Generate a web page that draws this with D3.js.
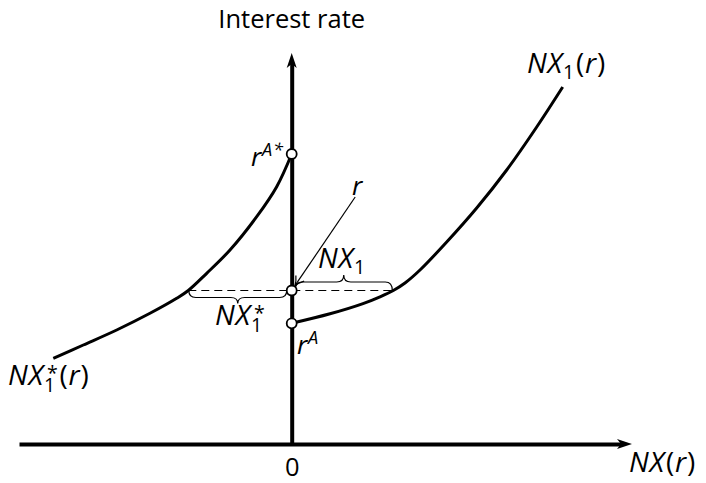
<!DOCTYPE html>
<html>
<head>
<meta charset="utf-8">
<script src="https://cdn.jsdelivr.net/npm/d3@7"></script>
<style>
  body { margin: 0; background: #fff; }
  text { font-family: "Open Sans", "DejaVu Sans", sans-serif; fill: #000; }
</style>
</head>
<body>
<svg id="chart" width="706" height="483"></svg>
<script>
// Home net exports NX1(r): [NX, r]
const homeNX = [
  [0, 12.07], [3.83, 13.02], [7.13, 14.04], [8.83, 14.72], [10.16, 15.35], [11.33, 16.1],
  [12.83, 17.4], [15.5, 20.2], [18.5, 23.6], [21.5, 27.4], [24.5, 31.7], [27.1, 35.7]
];
// Foreign net exports NX1*(r), mirrored to the left of the axis: [NX, r]
const foreignNX = [
  [-23.84, 8.57], [-20.84, 9.9], [-17.5, 11.4], [-14.17, 13.07], [-11.5, 14.57],
  [-10.34, 15.35], [-8.5, 17.07], [-6.17, 19.4], [-3.5, 22.73], [-1.5, 25.73], [0, 29.0]
];
// Key interest rates
const rAutarkyHome = 12.07;     // r^A
const rAutarkyForeign = 29.0;   // r^A*
const rWorld = 15.35;           // r
// Trade volumes at the world rate
const nxHomeAtWorld = 10.16;
const nxForeignAtWorld = -10.34;
// Tick labels
const xTicks = [0];
const xTickLabels = ["0"];

const svg = d3.select("#chart");
const x = d3.scaleLinear().domain([-27.27, 33.03]).range([19, 622]);
const y = d3.scaleLinear().domain([0, 38.1]).range([444, 63]);

// ---- Axes ----
const xAxis = d3.axisBottom(x).tickValues(xTicks).tickFormat((d, i) => xTickLabels[i])
  .tickSize(0).tickSizeOuter(0).tickPadding(14);
const gx = svg.append("g").attr("transform", `translate(0,${y(0)})`).call(xAxis);
gx.select(".domain").attr("stroke", "#000").attr("stroke-width", 4);
gx.selectAll(".tick text").attr("font-size", 25.5).attr("font-family", "Open Sans, sans-serif").attr("fill", "#000");

const yAxis = d3.axisLeft(y).tickValues([]).tickSize(0).tickSizeOuter(0);
const gy = svg.append("g").attr("transform", `translate(${x(0)},0)`).call(yAxis);
gy.select(".domain").attr("stroke", "#000").attr("stroke-width", 4);

// Filled arrowheads at the axis ends
const headPath = "M0,0 L-15,-5 L-11,0 L-15,5 Z";
svg.append("path").attr("d", headPath).attr("fill", "#000")
  .attr("transform", `translate(${x.range()[1] + 10},${y(0)})`);
svg.append("path").attr("d", headPath).attr("fill", "#000")
  .attr("transform", `translate(${x(0)},${y.range()[1] - 10}) rotate(-90)`);

// Vertical axis title
svg.append("text").attr("x", x(0)).attr("y", 28).attr("text-anchor", "middle")
  .attr("font-size", 25.5).text("Interest rate");

// ---- Curves ----
const line = d3.line().x(d => x(d[0])).y(d => y(d[1])).curve(d3.curveCatmullRom.alpha(0.5));
svg.append("path").datum(homeNX).attr("d", line)
  .attr("fill", "none").attr("stroke", "#000").attr("stroke-width", 3);
svg.append("path").datum(foreignNX).attr("d", line)
  .attr("fill", "none").attr("stroke", "#000").attr("stroke-width", 3);

// World-rate dashed line between the two curves
svg.append("line")
  .attr("x1", x(nxForeignAtWorld)).attr("x2", x(nxHomeAtWorld))
  .attr("y1", y(rWorld)).attr("y2", y(rWorld))
  .attr("stroke", "#000").attr("stroke-width", 1.1).attr("stroke-dasharray", "8,5");

// ---- Curly braces ----
function bracePath(x1, x2, y0, dir, a1, a2) {
  const xm = (x1 + x2) / 2, r = 7;
  const y1 = y0 + dir * a1, y2 = y0 + dir * a2;
  return `M${x1},${y0} Q${x1},${y1} ${x1 + r},${y1} L${xm - r},${y1} Q${xm},${y1} ${xm},${y2} ` +
         `Q${xm},${y1} ${xm + r},${y1} L${x2 - r},${y1} Q${x2},${y1} ${x2},${y0}`;
}
svg.append("path").attr("d", bracePath(x(0) + 3.5, x(nxHomeAtWorld) - 1, y(rWorld), -1, 8.5, 15.5))
  .attr("fill", "none").attr("stroke", "#000").attr("stroke-width", 1.2);
svg.append("path").attr("d", bracePath(x(nxForeignAtWorld) + 0.5, x(0) - 5, y(rWorld), 1, 7, 13))
  .attr("fill", "none").attr("stroke", "#000").attr("stroke-width", 1.2);

// ---- Arrow pointing at the world rate ----
const cx = x(0), cy = y(rWorld), rad = 5;
const ax0 = cx + 63.5, ay0 = cy - 93.5;
const ang = Math.atan2(cy - ay0, cx - ax0);
const tipX = cx - Math.cos(ang) * (rad + 0.8), tipY = cy - Math.sin(ang) * (rad + 0.8);
svg.append("line").attr("x1", ax0).attr("y1", ay0).attr("x2", tipX).attr("y2", tipY)
  .attr("stroke", "#000").attr("stroke-width", 1.2);
svg.append("path").attr("d", "M-9,-5 Q-4,-1 0,0 Q-4,1 -9,5")
  .attr("fill", "none").attr("stroke", "#000").attr("stroke-width", 1.2)
  .attr("transform", `translate(${tipX},${tipY}) rotate(${ang * 180 / Math.PI})`);

// ---- Marked points on the vertical axis ----
[rAutarkyForeign, rWorld, rAutarkyHome].forEach(r => {
  svg.append("circle").attr("cx", x(0)).attr("cy", y(r)).attr("r", rad)
    .attr("fill", "#fff").attr("stroke", "#000").attr("stroke-width", 1.8);
});

// ---- Math labels ----
function mathLabel(px, py, parts, size = 28) {
  const t = svg.append("text").attr("x", px).attr("y", py).attr("font-size", size)
    .attr("letter-spacing", 0.8);
  let shift = 0, last = null;
  parts.forEach(p => {
    const s = t.append("tspan").text(p.t);
    if (p.it) s.attr("font-style", "italic");
    if (p.small) s.attr("font-size", size * 0.7);
    const target = p.off || 0;
    if (target !== shift) { s.attr("dy", target - shift); shift = target; }
    let dx = p.dx || 0;
    if (p.over && last) dx -= last.node().getComputedTextLength();
    if (dx) s.attr("dx", dx);
    last = s;
  });
  return t;
}

mathLabel(527, 73, [{ t: "NX", it: true }, { t: "1", small: true, off: 6 }, { t: "(", off: 0, dx: 1 }, { t: "r", it: true }, { t: ")" }]);
mathLabel(8, 385, [{ t: "NX", it: true }, { t: "1", small: true, off: 7 }, { t: "*", small: true, off: -5, over: true, dx: 3 },
  { t: "(", off: 0, dx: 1 }, { t: "r", it: true }, { t: ")" }]);
mathLabel(629, 472, [{ t: "NX", it: true }, { t: "(", dx: 1 }, { t: "r", it: true }, { t: ")" }]);
mathLabel(318, 268, [{ t: "NX", it: true }, { t: "1", small: true, off: 6 }]);
mathLabel(215, 325, [{ t: "NX", it: true }, { t: "1", small: true, off: 7 }, { t: "*", small: true, off: -5, over: true, dx: 3 }]);
mathLabel(251, 166, [{ t: "r", it: true }, { t: "A*", it: true, small: true, off: -10 }], 26);
mathLabel(297, 354, [{ t: "r", it: true }, { t: "A", it: true, small: true, off: -10 }], 26);
mathLabel(352, 195, [{ t: "r", it: true }], 26);
</script>
</body>
</html>
